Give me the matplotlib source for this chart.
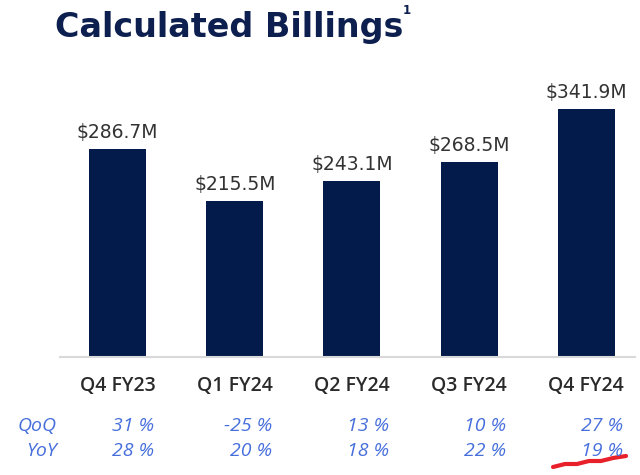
import matplotlib
matplotlib.use("Agg")
import matplotlib.pyplot as plt
import matplotlib.transforms as mtransforms

categories = ["Q4 FY23", "Q1 FY24", "Q2 FY24", "Q3 FY24", "Q4 FY24"]
billings = [286.7, 215.5, 243.1, 268.5, 341.9]
qoq = ["31 %", "-25 %", "13 %", "10 %", "27 %"]
yoy = ["28 %", "20 %", "18 %", "22 %", "19 %"]

W, H = 640, 475
fig = plt.figure(figsize=(W / 100, H / 100), dpi=100)
fig.patch.set_facecolor("white")

def fx(px):
    return px / W

def fy(py):
    return 1 - py / H

ax = fig.add_axes([fx(60), fy(357), fx(635) - fx(60), fy(80) - fy(357)])
x = list(range(len(categories)))
ax.bar(x, billings, width=0.487, color="#031b4b")
ax.set_xlim(-0.491, 4.415)
ax.set_ylim(0, 382)
for s in ["top", "right", "left"]:
    ax.spines[s].set_visible(False)
ax.spines["bottom"].set_color("#d9d9d9")
ax.spines["bottom"].set_linewidth(1.5)
ax.set_yticks([])
ax.set_xticks(x, categories)
ax.tick_params(axis="x", length=0, pad=14)
for t in ax.get_xticklabels():
    t.set_family(["Open Sans", "DejaVu Sans"])
    t.set_fontweight("semibold")
    t.set_fontsize(14)
    t.set_color("#2a2a2a")
ax.patch.set_alpha(0)

for xi, v in zip(x, billings):
    ax.annotate(f"${v:.1f}M", (xi, v), xytext=(0, 5), textcoords="offset points",
                ha="center", va="bottom", fontsize=13.5, color="#333333")

blue = "#476fdc"
pct_font = dict(family=["Open Sans", "DejaVu Sans"], style="italic", fontweight="normal",
                fontsize=14, color=blue)
fig.text(fx(57), fy(426), "QoQ", ha="right", va="center", **pct_font)
fig.text(fx(57), fy(451), "YoY", ha="right", va="center", **pct_font)

blend = mtransforms.blended_transform_factory(ax.transData, fig.transFigure)
shift = mtransforms.ScaledTranslation(0.37, 0, fig.dpi_scale_trans)
for xi, q, y_ in zip(x, qoq, yoy):
    fig.text(xi, fy(426), q, ha="right", va="center", transform=blend + shift, **pct_font)
    fig.text(xi, fy(451), y_, ha="right", va="center", transform=blend + shift, **pct_font)

# red spell-check squiggle under last YoY value
zx = [553, 565, 577, 589, 601, 613, 626]
zy = [467, 464, 464, 461, 461, 458, 456]
fig.add_artist(plt.Line2D([fx(v) for v in zx], [fy(v) for v in zy], color="#e8202a",
                          lw=3, transform=fig.transFigure, solid_capstyle="round"))

fig.text(fx(55), fy(37), "Calculated Billings", ha="left", va="baseline",
         fontsize=24, fontweight="bold", color="#0c1f4f")
fig.text(fx(403), fy(14), "1", ha="left", va="baseline", fontsize=8.5,
         fontweight="bold", color="#0c1f4f")

fig.savefig("out.png", dpi=100)
